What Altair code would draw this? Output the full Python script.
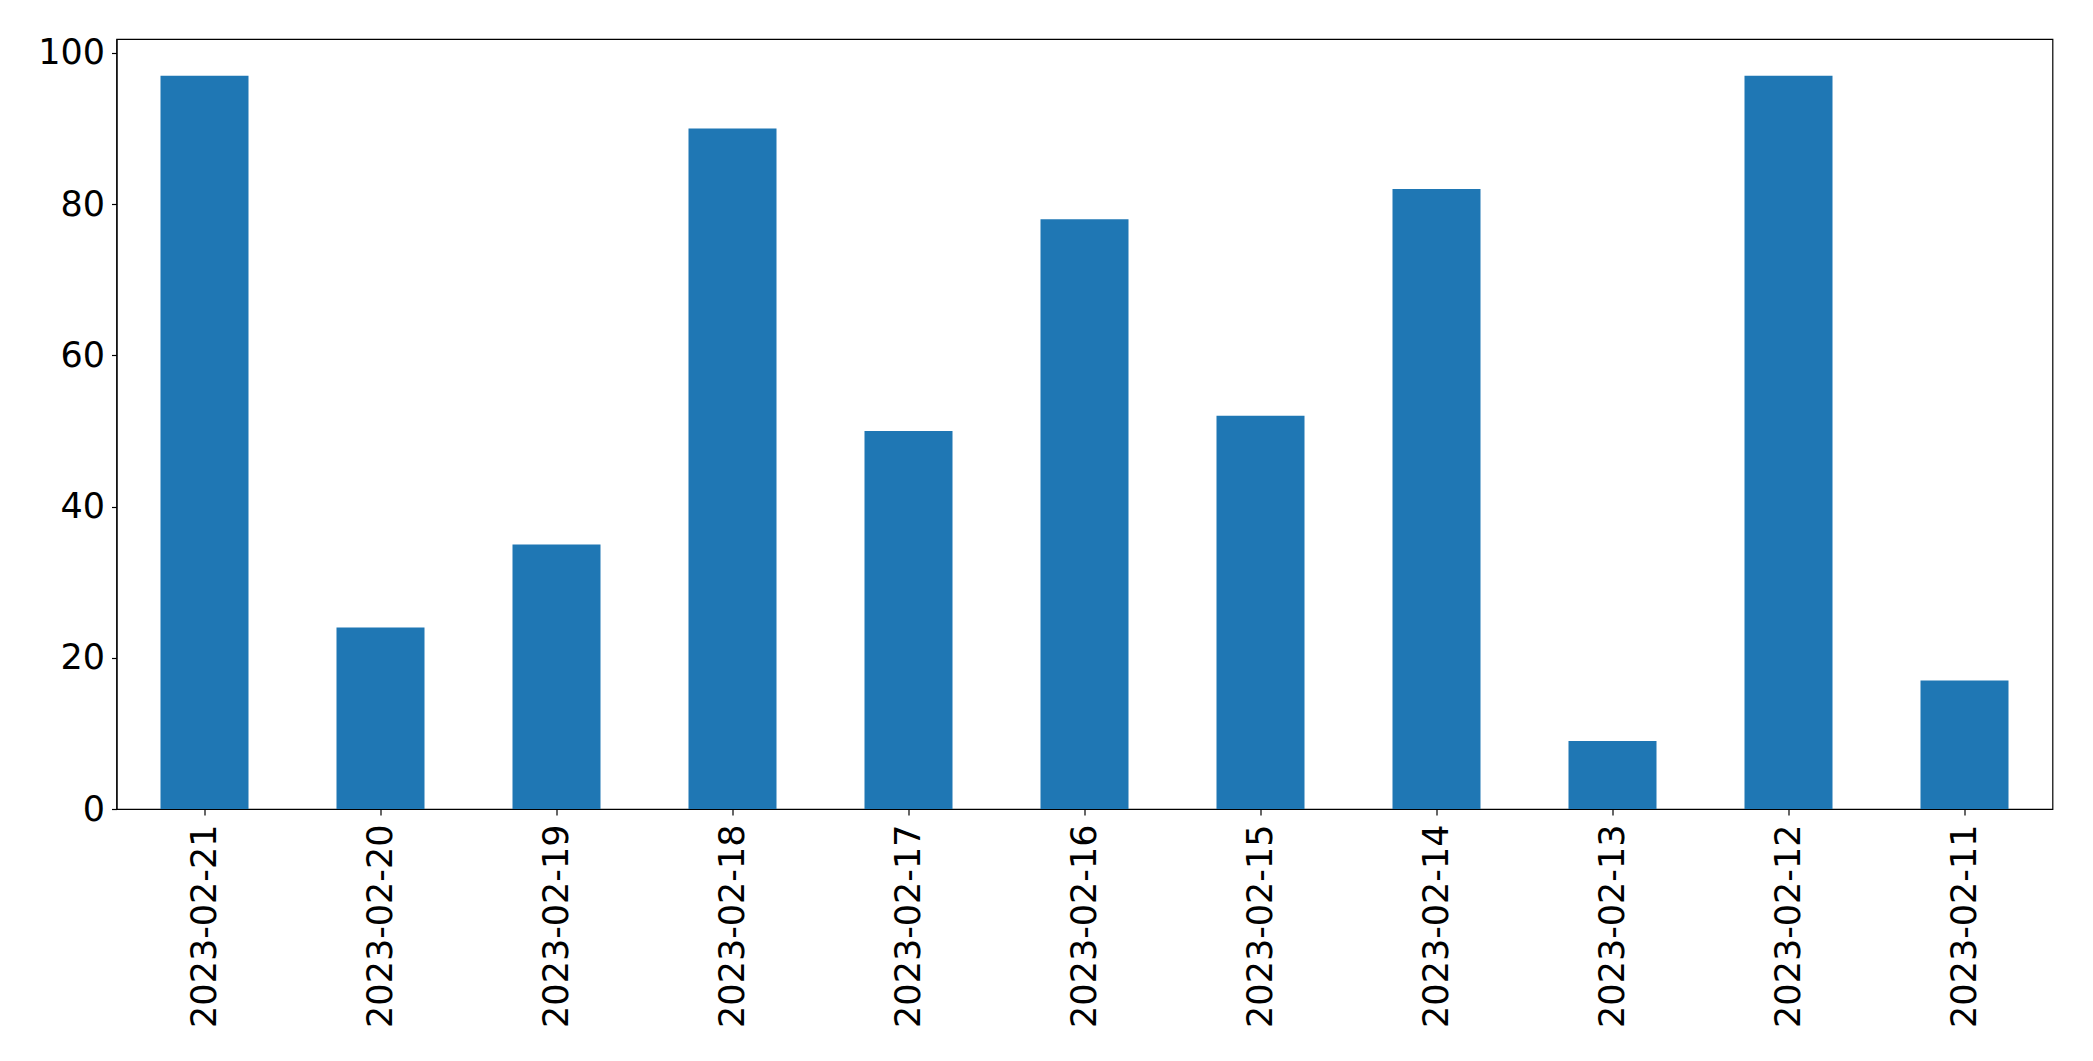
import altair as alt
import pandas as pd

dates = ["2023-02-21", "2023-02-20", "2023-02-19", "2023-02-18", "2023-02-17",
         "2023-02-16", "2023-02-15", "2023-02-14", "2023-02-13", "2023-02-12",
         "2023-02-11"]
values = [97, 24, 35, 90, 50, 78, 52, 82, 9, 97, 17]
y_ticks = [0, 20, 40, 60, 80, 100]

df = pd.DataFrame({"date": dates, "value": values})

chart = alt.Chart(df).mark_bar(color="#1f77b4").encode(
    x=alt.X("date:N", sort=None, title=None,
            scale=alt.Scale(paddingInner=0.5, paddingOuter=0.25),
            axis=alt.Axis(labelAngle=-90, labelFontSize=35, labelPadding=9,
                          labelLimit=1000,
                          tickSize=6, tickColor="black", domainColor="black",
                          labelColor="black", labelFont="DejaVu Sans")),
    y=alt.Y("value:Q", title=None,
            scale=alt.Scale(domain=[0, 101.85], nice=False, zero=True),
            axis=alt.Axis(values=y_ticks, labelFontSize=35, labelPadding=7,
                          tickSize=5, tickColor="black", domainColor="black",
                          labelColor="black", grid=False, labelFont="DejaVu Sans")),
).properties(
    width=1936, height=770,
    autosize=alt.AutoSizeParams(type="none"),
    padding={"left": 108.5, "top": 31, "right": 30, "bottom": 250},
).configure_view(stroke="black", strokeWidth=1.2).configure_axis(
    domainWidth=1.2, tickWidth=1.2
)

chart.save("out.html", embed_options={"renderer": "svg", "actions": False})
